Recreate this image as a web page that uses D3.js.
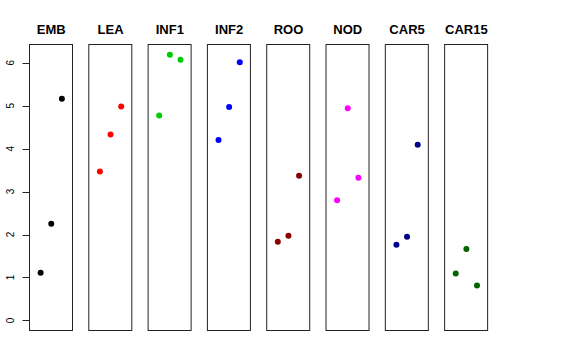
<!DOCTYPE html>
<html>
<head>
<meta charset="utf-8">
<script src="https://cdn.jsdelivr.net/npm/d3@7"></script>
<style>
  html, body { margin: 0; padding: 0; background: #fff; }
  svg { display: block; }
</style>
</head>
<body>
<svg id="chart" width="576" height="360"></svg>
<script>
const categories = ["EMB", "LEA", "INF1", "INF2", "ROO", "NOD", "CAR5", "CAR15"];
const colors = ["#000000", "#FF0000", "#00CD00", "#0000FF", "#8B0000", "#FF00FF", "#00008B", "#006400"];
const replicates = [1, 2, 3];
const EMB = [1.11, 2.25, 5.16];
const LEA = [3.47, 4.33, 4.98];
const INF1 = [4.77, 6.19, 6.07];
const INF2 = [4.20, 4.97, 6.01];
const ROO = [1.83, 1.97, 3.37];
const NOD = [2.80, 4.94, 3.32];
const CAR5 = [1.76, 1.95, 4.09];
const CAR15 = [1.09, 1.66, 0.81];
const seriesValues = [EMB, LEA, INF1, INF2, ROO, NOD, CAR5, CAR15];
const yTicks = [0, 1, 2, 3, 4, 5, 6];

const svg = d3.select("#chart");
const plotTop = 44, plotBottom = 331;

const xBand = d3.scaleBand().domain(categories).range([29, 488.6]).paddingInner(0.25).paddingOuter(0);
const yMax = d3.max(seriesValues.flat());
const pad = 0.04 * yMax;
const y = d3.scaleLinear().domain([-pad, yMax + pad]).range([plotBottom, plotTop]);
const xInner = d3.scaleLinear().domain([-0.09, 4.09]).range([0, xBand.bandwidth()]);

categories.forEach((cat, i) => {
  const g = svg.append("g").attr("transform", `translate(${xBand(cat)},0)`);
  g.append("rect")
    .attr("x", 0.5).attr("y", plotTop + 0.5)
    .attr("width", Math.round(xBand.bandwidth()) - 1)
    .attr("height", plotBottom - plotTop - 1)
    .attr("fill", "none").attr("stroke", "#222").attr("stroke-width", 1);
  g.append("text")
    .attr("x", xBand.bandwidth() / 2).attr("y", 34)
    .attr("text-anchor", "middle")
    .attr("font-family", "Liberation Sans, Arial, sans-serif")
    .attr("font-weight", "bold").attr("font-size", 13)
    .text(cat);
  g.selectAll("circle")
    .data(seriesValues[i])
    .enter().append("circle")
    .attr("cx", (d, j) => xInner(replicates[j]))
    .attr("cy", d => y(d))
    .attr("r", 3)
    .attr("fill", colors[i]);
});

// y axis on first panel
const axisG = svg.append("g").attr("transform", `translate(${xBand(categories[0]) + 0.5},0)`);
axisG.append("line")
  .attr("x1", 0).attr("x2", 0)
  .attr("y1", y(0)).attr("y2", y(6))
  .attr("stroke", "#222");
axisG.selectAll("line.tick").data(yTicks).enter().append("line")
  .attr("class", "tick")
  .attr("x1", -7).attr("x2", 0)
  .attr("y1", d => Math.round(y(d)) + 0.5).attr("y2", d => Math.round(y(d)) + 0.5)
  .attr("stroke", "#222");
axisG.selectAll("text").data(yTicks).enter().append("text")
  .attr("transform", d => `translate(-16,${y(d)}) rotate(-90)`)
  .attr("text-anchor", "middle")
  .attr("font-family", "Liberation Sans, Arial, sans-serif")
  .attr("font-size", 10)
  .text(d => d);
</script>
</body>
</html>
